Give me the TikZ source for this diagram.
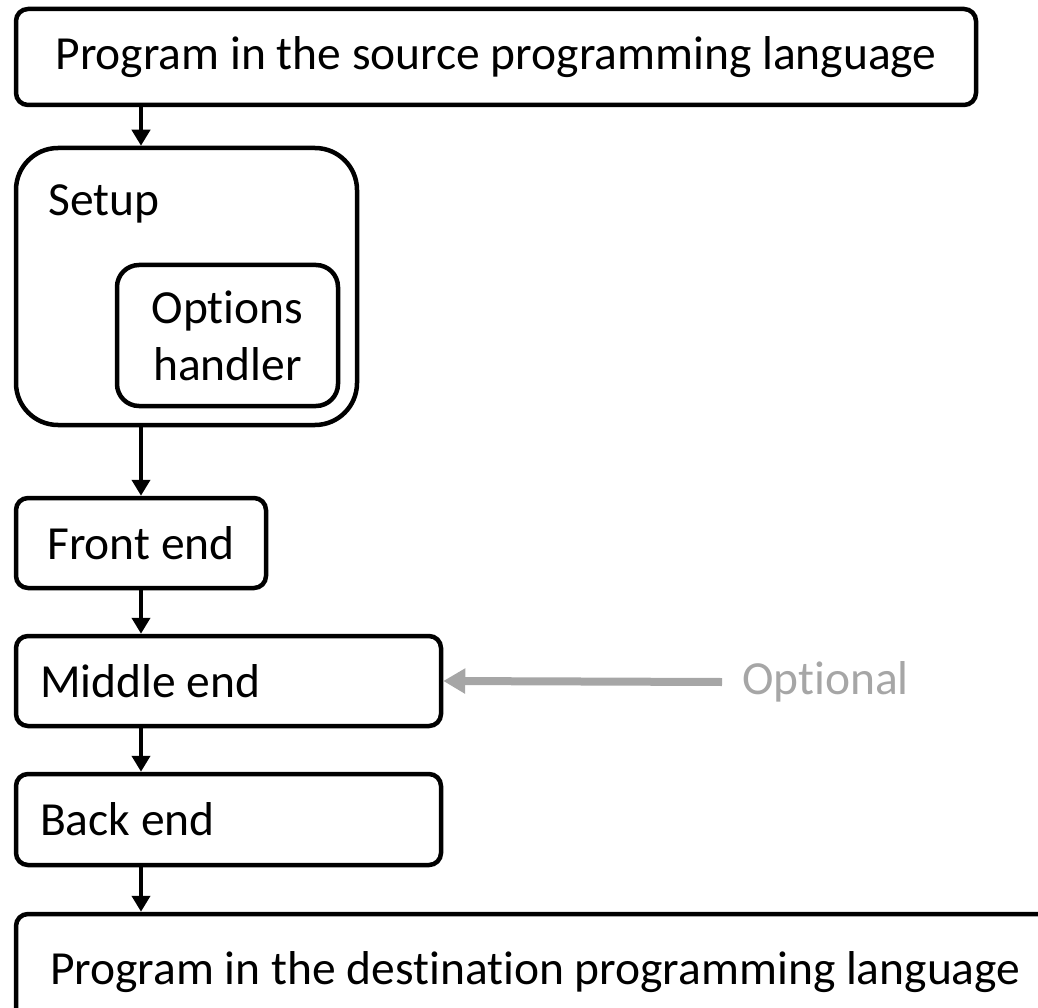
\documentclass[tikz,border=0pt]{standalone}
\usepackage{fontspec}
\setmainfont{Carlito}[Ligatures=NoCommon]
\usetikzlibrary{arrows.meta}
\definecolor{optgray}{HTML}{A6A6A6}
\tikzset{
  label font/.style={font=\fontsize{47.5}{57}\selectfont},
  box/.style={draw=black, line width=4.5pt, fill=white, rounded corners=12pt,
    inner sep=0pt, label font},
  flow/.style={line width=4pt, -{Triangle[length=16pt, width=18pt]}},
  optflow/.style={draw=optgray, line width=8pt, -{Triangle[length=22pt, width=24pt]}},
}
\begin{document}
\begin{tikzpicture}[x=1pt, y=-1pt]
  \useasboundingbox (0,0) rectangle (1038,1008);
  \clip (0,0) rectangle (1038,1008);

  % source program
  \node[box, minimum width=960pt, minimum height=96pt] (src) at (496,57)
    {Program in the source programming language};

  % setup stage with nested options handler
  \node[box, rounded corners=42pt, minimum width=341pt, minimum height=277pt] (setup) at (186.5,286.5) {};
  \node[label font, anchor=base west, inner sep=0pt] (setuplbl) at (48,216) {Setup};
  \node[box, rounded corners=22pt, minimum width=221pt, minimum height=141pt, align=center] (opts) at (227.5,335.5)
    {Options\\handler};

  % compiler stages
  \node[box, minimum width=250pt, minimum height=90pt] (front) at (141,543) {Front end};
  \node[box, minimum width=425pt, minimum height=90pt, text width=377pt, align=flush left] (middle) at (228.5,681) {Middle end};
  \node[box, minimum width=425pt, minimum height=91pt, text width=377pt, align=flush left] (back) at (228.5,819.5) {Back end};

  % destination program (runs past the page edge)
  \node[box, minimum width=1050pt, minimum height=116pt, text width=982pt, align=flush left] (dst) at (541,972)
    {Program in the destination programming language};
  \node[label font, text=optgray, anchor=west, inner sep=0pt] (opt) at (742,682) {Optional};

  % connectors
  \draw[flow] (src.south -| 141,0) -- (setup.north -| 141,0);
  \draw[flow] (setup.south -| 141,0) -- (front.north);
  \draw[flow] (front.south) -- (middle.north -| 141,0);
  \draw[flow] (middle.south -| 141,0) -- (back.north -| 141,0);
  \draw[flow] (back.south -| 141,0) -- (dst.north -| 141,0);
  \path (opt.west) ++(-20pt,0) coordinate (optstart);
  \draw[optflow] (optstart) -- (middle.east);
\end{tikzpicture}
\end{document}
